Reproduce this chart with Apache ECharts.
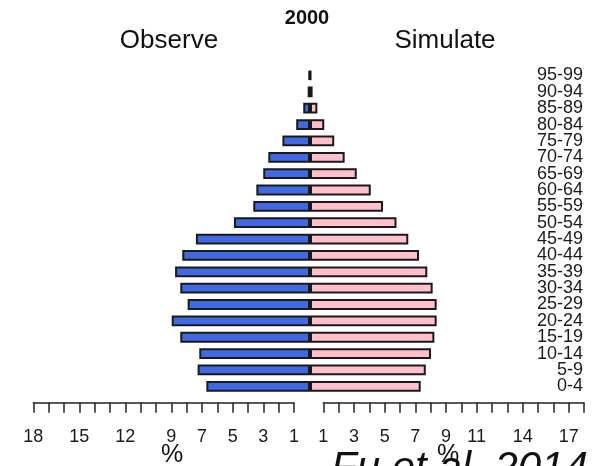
<!DOCTYPE html>
<html>
<head>
<meta charset="utf-8">
<script src="https://cdn.jsdelivr.net/npm/echarts@6/dist/echarts.min.js"></script>
<style>html,body{margin:0;padding:0;background:#fff;}#c{width:597px;height:466px;}</style>
</head>
<body>
<div id="c"></div>
<script>
var ages = ['0-4','5-9','10-14','15-19','20-24','25-29','30-34','35-39','40-44','45-49','50-54','55-59','60-64','65-69','70-74','75-79','80-84','85-89','90-94','95-99'];
var observe = [6.76, 7.33, 7.22, 8.46, 9.02, 7.98, 8.46, 8.8, 8.33, 7.44, 4.96, 3.7, 3.5, 3.05, 2.72, 1.8, 0.9, 0.44, 0.15, 0.1];
var simulate = [7.22, 7.55, 7.89, 8.11, 8.26, 8.26, 8.0, 7.65, 7.11, 6.41, 5.64, 4.76, 3.96, 3.05, 2.26, 1.58, 0.93, 0.48, 0.17, 0.07];
var leftTickLabels = [18, 15, 12, 9, 7, 5, 3, 1];
var rightTickLabels = [1, 3, 5, 7, 9, 11, 14, 17];
var titleText = '2000';
var leftName = 'Observe';
var rightName = 'Simulate';
var creditText = 'Fu et al. 2014';

var FONT = '"Liberation Sans", Arial, sans-serif';
var chart = echarts.init(document.getElementById('c'), null, {renderer: 'canvas'});

function hiddenX(grid, inverse) {
  return {
    gridIndex: grid, type: 'value', min: 0, max: 18, inverse: inverse,
    axisLine: {show: false}, axisTick: {show: false}, axisLabel: {show: false}, splitLine: {show: false},
    name: '%', nameLocation: 'middle', nameGap: 48,
    nameTextStyle: {fontSize: 25, color: '#111', fontFamily: FONT}
  };
}
function visX(grid, inverse, labels) {
  return {
    gridIndex: grid, type: 'value', min: 1, max: 18, interval: 1, inverse: inverse,
    axisLine: {show: true, lineStyle: {color: '#222', width: 1.5}},
    axisTick: {show: true, length: 10, lineStyle: {color: '#222', width: 1.5}},
    splitLine: {show: false},
    axisLabel: {
      show: true, margin: 25, fontSize: 18, color: '#1a1a1a', fontFamily: FONT,
      formatter: function (v) { return labels.indexOf(v) >= 0 ? String(v) : ''; }
    }
  };
}
function g(o) { o.containLabel = false; o.outerBoundsMode = 'none'; return o; }

var option = {
  animation: false,
  backgroundColor: '#fff',
  grid: [
    g({left: 34, width: 276, top: 67.3, height: 327.2}),
    g({left: 310, width: 276, top: 67.3, height: 327.2}),
    g({left: 33.3, width: 260.7, top: 390, height: 12.7}),
    g({left: 323.3, width: 260.7, top: 390, height: 12.7})
  ],
  xAxis: [
    hiddenX(0, true),
    hiddenX(1, false),
    visX(2, true, leftTickLabels),
    visX(3, false, rightTickLabels)
  ],
  yAxis: [
    {gridIndex: 0, type: 'category', data: ages, show: false},
    {gridIndex: 1, type: 'category', data: ages, position: 'right',
     axisLine: {show: false}, axisTick: {show: false}, splitLine: {show: false},
     axisLabel: {inside: true, margin: 3, fontSize: 18, color: '#1a1a1a', fontFamily: FONT, interval: 0}},
    {gridIndex: 2, type: 'value', show: false},
    {gridIndex: 3, type: 'value', show: false}
  ],
  series: [
    {type: 'bar', xAxisIndex: 0, yAxisIndex: 0, data: observe, barWidth: 10.8,
     itemStyle: {color: '#4169E1', borderColor: '#1a1a1a', borderWidth: 2}},
    {type: 'bar', xAxisIndex: 1, yAxisIndex: 1, data: simulate, barWidth: 10.8,
     itemStyle: {color: '#FFC0CB', borderColor: '#1a1a1a', borderWidth: 2}}
  ],
  graphic: [
    {type: 'text', x: 307, y: 18.3, style: {text: titleText, font: 'bold 20px ' + FONT, fill: '#111', align: 'center', verticalAlign: 'middle'}},
    {type: 'text', x: 169, y: 41, style: {text: leftName, font: '26px ' + FONT, fill: '#111', align: 'center', verticalAlign: 'middle'}},
    {type: 'text', x: 445, y: 41, style: {text: rightName, font: '26px ' + FONT, fill: '#111', align: 'center', verticalAlign: 'middle'}},
    {type: 'text', x: 331, y: 448, style: {text: creditText, font: 'italic 42px ' + FONT, fill: '#111', align: 'left', verticalAlign: 'top'}}
  ]
};
chart.setOption(option);
</script>
</body>
</html>
